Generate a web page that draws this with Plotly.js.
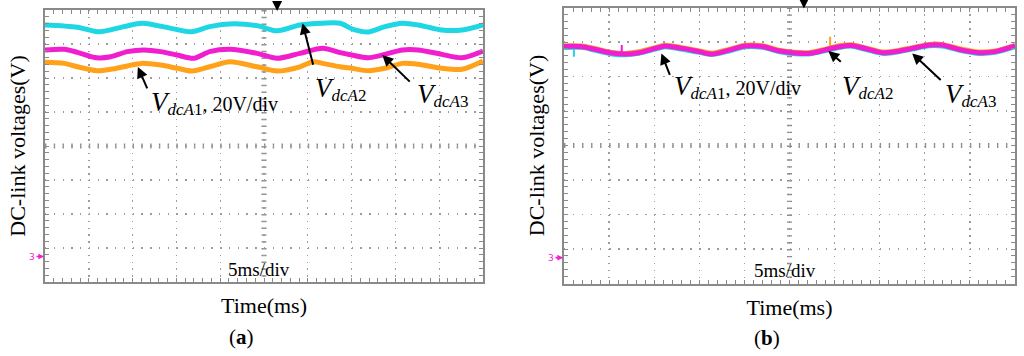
<!DOCTYPE html>
<html><head><meta charset="utf-8">
<script src="https://cdn.plot.ly/plotly-3.0.1.min.js"></script>
<style>html,body{margin:0;padding:0;background:#fff}#chart{width:1024px;height:356px}</style>
</head><body><div id="chart"></div>
<script>
// ---------- data (time in ms, voltage in V; 20 V/div, 5 ms/div) ----------
// panel (a): without balancing
const tA_dcA1 = [0, 2.2, 3.7, 5.9, 7.5, 9.4, 11.0, 13.2, 15.1, 16.8, 18.8, 21.1, 24.2, 26.5, 29.1, 30.6, 31.7, 33.7, 35.0, 36.9, 38.8, 40.8, 42.6, 45.3, 47.6, 50];
const vA_dcA1 = [114.2, 113.6, 111.6, 109.3, 110.1, 112.1, 113.6, 112.6, 110.7, 109.1, 111.6, 114.6, 111.6, 109.1, 111.6, 114.6, 113.6, 111.6, 110.7, 109.3, 110.7, 113.6, 113.1, 110.7, 110.1, 115.0];
const tA_dcA2 = [0, 3.7, 6.2, 9.0, 11.1, 14.4, 16.7, 18.8, 21.1, 24.2, 26.5, 29.1, 31.7, 33.7, 35.1, 36.9, 38.8, 40.8, 42.6, 45.3, 47.6, 50];
const vA_dcA2 = [136.2, 134.9, 132.2, 135.2, 137.2, 134.2, 132.2, 135.2, 136.8, 135.8, 132.8, 136.2, 137.2, 137.2, 133.8, 132.1, 135.2, 137.2, 136.2, 133.2, 133.2, 136.2];
const tA_dcA3 = [0, 2.2, 3.7, 5.9, 7.5, 9.4, 11.3, 13.2, 15.1, 17.0, 18.8, 21.1, 24.2, 26.5, 29.1, 31.7, 33.7, 35.0, 36.9, 38.8, 40.8, 42.6, 45.3, 47.6, 50];
const vA_dcA3 = [121.5, 121.9, 120.1, 116.9, 117.5, 120.5, 121.5, 120.5, 118.5, 116.6, 120.5, 121.9, 119.5, 116.6, 119.5, 122.5, 119.9, 118.5, 116.9, 118.9, 121.5, 121.5, 118.9, 116.9, 120.9];

// panel (b): with balancing
const tB = [0, 2.0, 3.4, 5.3, 6.8, 8.3, 10.1, 11.2, 13.1, 15.0, 16.4, 18.3, 20.1, 22.0, 23.8, 25.6, 27.2, 28.9, 30.5, 31.9, 33.4, 35.3, 36.7, 38.6, 40.5, 41.9, 44.1, 46.0, 47.8, 50];
const vB_dcA1 = [122.8, 122.7, 121.2, 119.0, 118.4, 119.3, 121.7, 123.1, 121.7, 119.8, 118.5, 120.7, 123.1, 122.8, 120.3, 119.0, 118.9, 120.7, 122.8, 123.4, 121.6, 119.2, 119.8, 121.7, 123.6, 123.6, 120.8, 119.2, 119.8, 123.1];
const vB_dcA2 = [121.8, 121.9, 120.3, 118.1, 117.6, 118.5, 120.9, 122.2, 120.8, 119.0, 117.7, 119.8, 122.2, 121.9, 119.5, 118.2, 118.1, 119.9, 121.8, 122.6, 120.8, 118.4, 119.0, 120.9, 122.8, 122.7, 119.9, 118.4, 119.0, 122.3];
const vB_dcA3 = [122.4, 122.3, 120.8, 118.6, 118.0, 118.8, 121.3, 122.7, 121.3, 119.4, 118.0, 120.3, 122.7, 122.4, 119.9, 118.6, 118.4, 120.3, 122.3, 123.0, 121.2, 118.8, 119.4, 121.3, 123.2, 123.2, 120.3, 118.8, 119.4, 122.7];
// short glitches visible on the traces in (b)
const tB_glitchA1 = [29.5, 29.5];  const vB_glitchA1 = [120.4, 128.1];
const tB_glitchA2 = [1.1, 1.1];    const vB_glitchA2 = [122.0, 116.5];
const tB_glitchA3 = [6.4, 6.4];    const vB_glitchA3 = [118.2, 123.2];

const seriesNames = ['V<sub>dcA1</sub>', 'V<sub>dcA2</sub>', 'V<sub>dcA3</sub>'];
const xTitle = 'Time(ms)';
const yTitle = 'DC-link voltages(V)';

// ---------- styling ----------
const W = 1024, H = 356;
const C1 = '#ffa21a', C2 = '#1fd6e4', C3 = '#f01ecf';
const FRAME = '#8a8a8a', GRID = '#9c9c9c';
const SERIF = 'Liberation Serif, Times New Roman, serif';
const boxA = {l: 45, r: 483, t: 10, b: 282};
const boxB = {l: 564, r: 1015, t: 7.5, b: 283.5};
const XR = [0, 50], YR = [-15, 145];

function px(x) { return x / W; }
function py(y) { return 1 - y / H; }

function xAxis(box, anchor) {
  const h = box.b - box.t;
  const step = h / 40; // minor spacing along vertical grid lines
  return {
    domain: [px(box.l), px(box.r)], anchor: anchor, range: XR, fixedrange: true,
    tick0: 0, dtick: 5, ticks: 'inside', ticklen: 4, tickwidth: 1, tickcolor: FRAME,
    minor: {tick0: 0, dtick: 1, ticks: 'inside', ticklen: 4, tickwidth: 1, tickcolor: FRAME, showgrid: false},
    showgrid: true, gridcolor: GRID, gridwidth: 1.4, griddash: '1.4px,' + (step - 1.4).toFixed(2) + 'px',
    showline: true, linecolor: FRAME, linewidth: 2, mirror: 'allticks',
    zeroline: false, showticklabels: false,
    title: {text: xTitle, font: {family: SERIF, size: 22, color: '#000'}, standoff: 15}
  };
}
function yAxis(box, anchor) {
  const w = box.r - box.l;
  const step = w / 50;
  return {
    domain: [py(box.b), py(box.t)], anchor: anchor, range: YR, fixedrange: true,
    tick0: 5, dtick: 20, ticks: 'inside', ticklen: 4, tickwidth: 1, tickcolor: FRAME,
    minor: {tick0: 5, dtick: 4, ticks: 'inside', ticklen: 4, tickwidth: 1, tickcolor: FRAME, showgrid: false},
    showgrid: true, gridcolor: GRID, gridwidth: 1.4, griddash: '1.4px,' + (step - 1.4).toFixed(2) + 'px',
    showline: true, linecolor: FRAME, linewidth: 2, mirror: 'allticks',
    zeroline: false, showticklabels: false,
    title: {text: yTitle, font: {family: SERIF, size: 22, color: '#000'}, standoff: 11}
  };
}

function tr(x, y, color, name, xa, ya, w) {
  return {x: x, y: y, type: 'scatter', mode: 'lines', name: name, xaxis: xa, yaxis: ya,
          line: {color: color, width: w || 5, shape: 'spline', smoothing: 0.8}, hoverinfo: 'skip'};
}

const traces = [
  tr(tA_dcA1, vA_dcA1, C1, seriesNames[0], 'x', 'y'),
  tr(tA_dcA2, vA_dcA2, C2, seriesNames[1], 'x', 'y'),
  tr(tA_dcA3, vA_dcA3, C3, seriesNames[2], 'x', 'y'),
  tr(tB, vB_dcA1, C1, seriesNames[0], 'x2', 'y2'),
  tr(tB, vB_dcA2, C2, seriesNames[1], 'x2', 'y2'),
  tr(tB_glitchA1, vB_glitchA1, C1, seriesNames[0], 'x2', 'y2', 2),
  tr(tB_glitchA2, vB_glitchA2, C2, seriesNames[1], 'x2', 'y2', 2),
  tr(tB, vB_dcA3, C3, seriesNames[2], 'x2', 'y2'),
  tr(tB_glitchA3, vB_glitchA3, C3, seriesNames[2], 'x2', 'y2', 2)
];

// centre cross graticule with tick marks
function crossShapes(box, xs, ys) {
  const h = box.b - box.t, w = box.r - box.l;
  return [
    {type: 'line', xref: xs, yref: ys + ' domain', x0: 25, x1: 25, y0: 1, y1: 0, layer: 'below',
     line: {color: FRAME, width: 5, dash: '1.4px,' + (h / 40 - 1.4).toFixed(2) + 'px'}},
    {type: 'line', xref: xs + ' domain', yref: ys, x0: 0, x1: 1, y0: 65, y1: 65, layer: 'below',
     line: {color: FRAME, width: 5, dash: '1.4px,' + (w / 50 - 1.4).toFixed(2) + 'px'}}
  ];
}

function label(x, y, sub, extra) {
  return {xref: 'paper', yref: 'paper', x: px(x), y: py(y), xanchor: 'left', yanchor: 'top', showarrow: false,
          font: {family: SERIF, size: 19, color: '#000'},
          text: '<span style="font-size:27px"><i>V</i></span><sub><span style="font-size:17px"><i>dcA</i>' + sub +
                '</span></sub>' + (extra ? '<span style="font-size:20px">' + extra + '</span>' : '')};
}
function arrow(xa, ya, x, y, ax, ay) {
  return {xref: xa, yref: ya, x: x, y: y, ax: ax, ay: ay, text: '', showarrow: true,
          arrowhead: 2, arrowsize: 1.1, arrowwidth: 2, arrowcolor: '#000'};
}
function textAt(x, y, t, size, extra) {
  return Object.assign({xref: 'paper', yref: 'paper', x: px(x), y: py(y), xanchor: 'center', yanchor: 'middle',
          showarrow: false, text: t, font: {family: SERIF, size: size, color: '#000'}}, extra || {});
}
function groundMark(xa, ya) {
  return {xref: xa, yref: ya, x: 0, y: 0, ax: -13, ay: 0, text: '3', showarrow: true,
          arrowhead: 2, arrowsize: 0.7, arrowwidth: 1.6, arrowcolor: C3, standoff: 1,
          font: {family: 'DejaVu Sans', size: 9, color: C3}};
}
function trigMark(xa, t, box) {
  return {xref: xa, yref: 'paper', x: t, y: py(box.t + 1), ax: 0, ay: -9, text: '', showarrow: true,
          arrowhead: 2, arrowsize: 1, arrowwidth: 2, arrowcolor: '#000'};
}

const annotations = [
  // panel (a)
  label(149, 85, '1', ', 20V/div'),
  label(313, 71, '2'),
  label(415, 77, '3'),
  arrow('x', 'y', 10.6, 111.5, 10, 23),
  arrow('x', 'y', 29.4, 137.2, 11, 43),
  arrow('x', 'y', 38.5, 118.5, 29, 28),
  textAt(259, 269, '5ms/div', 19),
  textAt(241, 337, '(<b>a</b>)', 21),
  groundMark('x', 'y'),
  trigMark('x', 26.5, boxA),
  // panel (b)
  label(672, 69, '1', ', 20V/div'),
  label(840, 69, '2'),
  label(943, 77, '3'),
  arrow('x2', 'y2', 10.8, 118.4, 9, 23),
  arrow('x2', 'y2', 29.3, 119.8, 14, 12),
  arrow('x2', 'y2', 38.6, 118.4, 30, 28),
  textAt(785, 270, '5ms/div', 19),
  textAt(767, 338, '(<b>b</b>)', 21),
  groundMark('x2', 'y2'),
  trigMark('x2', 26.6, boxB)
];

const layout = {
  width: W, height: H, margin: {l: 0, r: 0, t: 0, b: 0},
  paper_bgcolor: '#fff', plot_bgcolor: '#fff', showlegend: false,
  font: {family: SERIF, color: '#000'},
  xaxis: xAxis(boxA, 'y'), yaxis: yAxis(boxA, 'x'),
  xaxis2: xAxis(boxB, 'y2'), yaxis2: yAxis(boxB, 'x2'),
  shapes: crossShapes(boxA, 'x', 'y').concat(crossShapes(boxB, 'x2', 'y2')),
  annotations: annotations
};

Plotly.newPlot('chart', traces, layout, {staticPlot: true, displayModeBar: false});
</script>
</body></html>
